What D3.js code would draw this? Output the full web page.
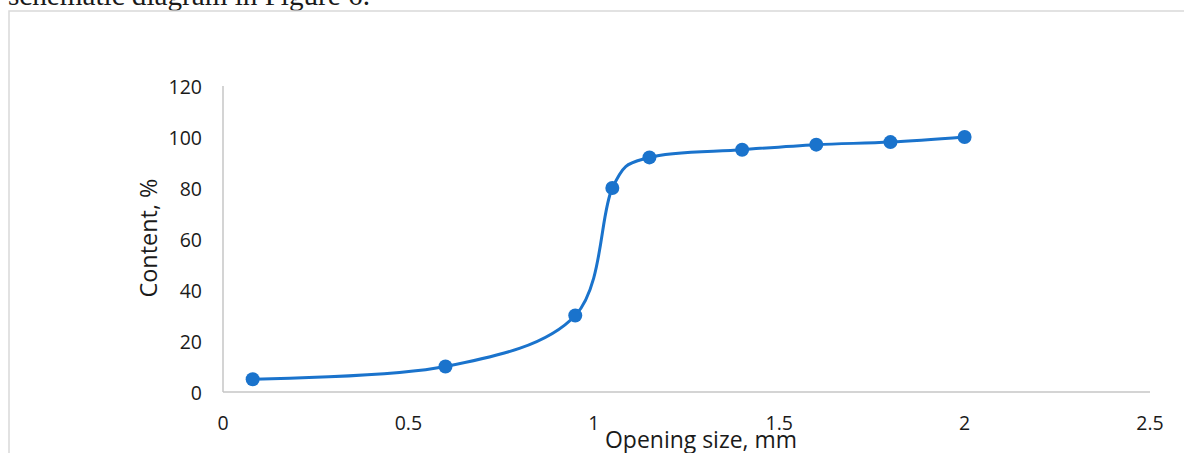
<!DOCTYPE html>
<html><head><meta charset="utf-8">
<script src="https://cdn.jsdelivr.net/npm/d3@7"></script>
<style>
html,body{margin:0;padding:0;background:#fff;overflow:hidden;}
</style></head>
<body>
<svg id="chart" width="1184" height="453"></svg>
<script>
const sizes = [0.08, 0.6, 0.95, 1.05, 1.15, 1.4, 1.6, 1.8, 2.0];
const contents = [5, 10, 30, 80, 92, 95, 97, 98, 100];
const xTicks = [0, 0.5, 1, 1.5, 2, 2.5];
const yTicks = [0, 20, 40, 60, 80, 100, 120];
const xTitle = "Opening size, mm";
const yTitle = "Content, %";
const caption = "schematic diagram in Figure 6.";

const svg = d3.select("#chart");
const blue = "#1a73cc";
const axisColor = "#c6c6c6";
const textColor = "#1a1a1a";
const font = "'Open Sans', Lato, sans-serif";

function fitWidth(sel, target) {
  const n = sel.node();
  const fs = parseFloat(sel.attr("font-size"));
  const w = n.getComputedTextLength();
  if (w > 0) sel.attr("font-size", (fs * target / w).toFixed(2));
}

// caption text (cut at top)
const cap = svg.append("text").attr("x", 8).attr("y", 5)
  .attr("font-family", "'Liberation Serif', 'DejaVu Serif', serif")
  .attr("font-size", 22).attr("fill", "#1a1a1a").text(caption);
fitWidth(cap, 362);

// frame
svg.append("rect").attr("x", 9).attr("y", 11).attr("width", 1200).attr("height", 500)
  .attr("fill", "none").attr("stroke", "#d9d9d9").attr("stroke-width", 1.5);

const x = d3.scaleLinear().domain([0, 2.5]).range([223, 1150]);
const y = d3.scaleLinear().domain([0, 120]).range([392, 86]);

// axes lines
svg.append("line").attr("x1", x(0)).attr("x2", x(2.5)).attr("y1", y(0)).attr("y2", y(0))
  .attr("stroke", axisColor).attr("stroke-width", 1.5);
svg.append("line").attr("x1", x(0)).attr("x2", x(0)).attr("y1", y(0)).attr("y2", y(120))
  .attr("stroke", axisColor).attr("stroke-width", 1.5);

// tick labels
svg.append("g").selectAll("text").data(yTicks).join("text")
  .attr("x", 202).attr("y", d => y(d) + 8)
  .attr("text-anchor", "end").attr("font-family", font).attr("font-size", 19.5)
  .attr("fill", textColor).text(d => d);
svg.append("g").selectAll("text").data(xTicks).join("text")
  .attr("x", d => x(d)).attr("y", 430)
  .attr("text-anchor", "middle").attr("font-family", font).attr("font-size", 19.5)
  .attr("fill", textColor).text(d => d);

// titles
const xt = svg.append("text").attr("x", 701).attr("y", 448).attr("text-anchor", "middle")
  .attr("font-family", font).attr("font-size", 22).attr("fill", textColor).text(xTitle);
fitWidth(xt, 192);
const yt = svg.append("text").attr("transform", "translate(157,238) rotate(-90)").attr("text-anchor", "middle")
  .attr("font-family", font).attr("font-size", 22).attr("fill", textColor).text(yTitle);
fitWidth(yt, 119);

const data = sizes.map((s, i) => ({s, c: contents[i]}));
const line = d3.line().x(d => x(d.s)).y(d => y(d.c)).curve(d3.curveCatmullRom.alpha(0));
svg.append("path").datum(data).attr("d", line).attr("fill", "none")
  .attr("stroke", blue).attr("stroke-width", 3);
svg.append("g").selectAll("circle").data(data).join("circle")
  .attr("cx", d => x(d.s)).attr("cy", d => y(d.c)).attr("r", 7).attr("fill", blue);
</script>
</body></html>
